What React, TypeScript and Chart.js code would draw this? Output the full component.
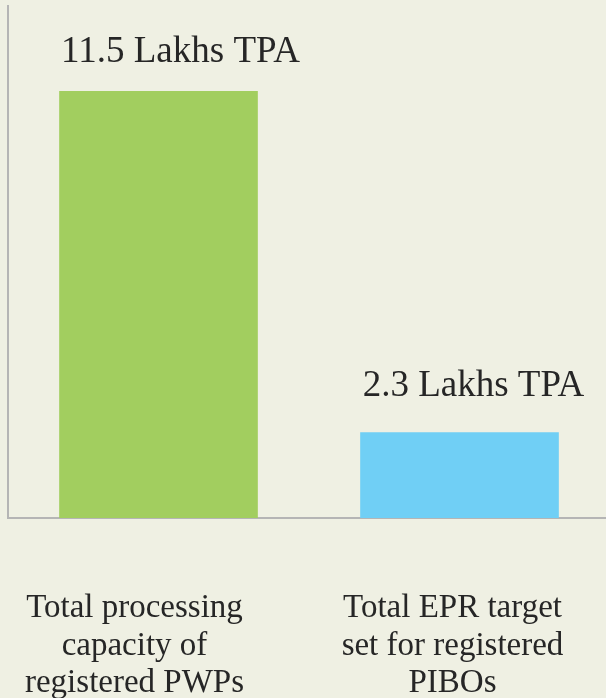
import React, { useEffect, useRef } from "react";
import { Chart, registerables } from "chart.js";

Chart.register(...registerables);

const categories: string[][] = [
  ["Total processing", "capacity of", "registered PWPs"],
  ["Total EPR target", "set for registered", "PIBOs"],
];
const values: number[] = [11.5, 2.3];
const valueLabels: string[] = ["11.5 Lakhs TPA", "2.3 Lakhs TPA"];
const barColors: string[] = ["#a2ce5f", "#70cff5"];

const BG = "#eff0e3";
const TEXT = "#262626";
const FONT = "'Liberation Serif', 'Times New Roman', serif";

const labelPlugin = {
  id: "slideLabels",
  afterDatasetsDraw(chart: any, _args: any, opts: any) {
    const ctx = chart.ctx;
    const meta = chart.getDatasetMeta(0);
    const area = chart.chartArea;
    ctx.save();
    ctx.fillStyle = TEXT;
    ctx.textAlign = "center";
    ctx.textBaseline = "alphabetic";
    meta.data.forEach((bar: any, i: number) => {
      ctx.font = `37px ${FONT}`;
      ctx.fillText(valueLabels[i], bar.x + opts.valueDx[i], bar.y + opts.valueDy[i]);
      ctx.font = `33px ${FONT}`;
      categories[i].forEach((line, j) => {
        ctx.fillText(line, bar.x + opts.catDx[i], area.bottom + opts.catTop + j * opts.catLine);
      });
    });
    ctx.restore();
  },
};

export default function App() {
  const ref = useRef<HTMLCanvasElement | null>(null);
  useEffect(() => {
    document.body.style.margin = "0";
    document.body.style.background = BG;
    const chart = new Chart(ref.current as HTMLCanvasElement, {
      type: "bar",
      data: {
        labels: categories.map((c) => c.join(" ")),
        datasets: [
          {
            data: values,
            backgroundColor: barColors,
            borderWidth: 0,
            barThickness: 198,
          },
        ],
      },
      options: {
        animation: false,
        responsive: false,
        maintainAspectRatio: false,
        layout: { padding: { top: 6, left: 0, right: 0, bottom: 172 } },
        plugins: {
          legend: { display: false },
          tooltip: { enabled: false },
          slideLabels: {
            valueDx: [22, 14],
            valueDy: [-29, -37],
            catDx: [-24, -7],
            catTop: 99,
            catLine: 37.5,
          },
        } as any,
        scales: {
          x: {
            display: true,
            z: 1,
            grid: { display: false },
            ticks: { display: false },
            border: { display: true, color: "#b5b5b5", width: 2 },
          },
          y: {
            display: true,
            min: 0,
            max: 13.8,
            z: 1,
            grid: { display: false },
            ticks: { display: false },
            border: { display: true, color: "#b5b5b5", width: 2 },
          },
        },
      },
      plugins: [labelPlugin],
    });
    return () => chart.destroy();
  }, []);
  return (
    <div style={{ width: 606, height: 698, overflow: "hidden", background: BG }}>
      <canvas ref={ref} width={610} height={698} style={{ display: "block" }} />
    </div>
  );
}
